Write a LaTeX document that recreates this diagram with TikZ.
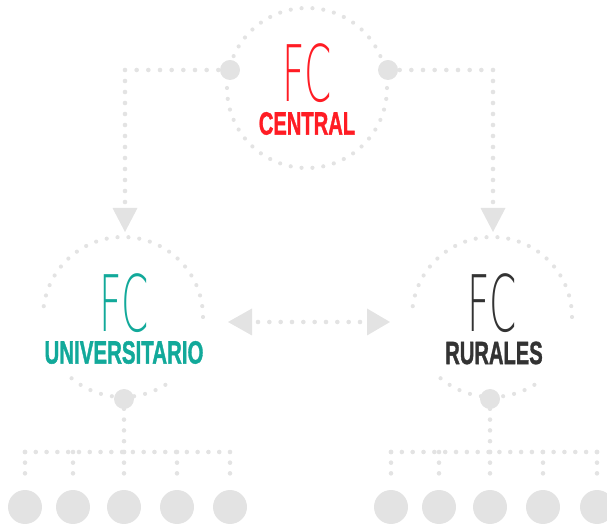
\documentclass[tikz,border=0pt]{standalone}
\usepackage{fontspec}
\usepackage{graphicx}
\setmainfont{Liberation Sans}
\newfontfamily\fcfont{DejaVu Sans ExtraLight}
\newfontfamily\namefont{Liberation Sans}[BoldFeatures={FakeBold=1.6}]
\definecolor{dotgray}{HTML}{E3E3E3}
\definecolor{fcred}{HTML}{FF1C24}
\definecolor{fcteal}{HTML}{12A99A}
\definecolor{fcdark}{HTML}{333333}
\begin{document}
\begin{tikzpicture}[x=1pt,y=1pt,
  dotline/.style={draw=dotgray, line width=4.6pt, line cap=round, dash pattern=on 0pt off #1},
  dotline/.default=11pt,
  ringdots/.style={draw=dotgray, line width=4.2pt, line cap=round, dash pattern=on 0pt off #1},
  ringdots/.default=10.93pt,
  joint/.style={circle, fill=dotgray, minimum size=20pt, inner sep=0pt},
  leaf/.style={circle, fill=dotgray, minimum size=34pt, inner sep=0pt},
  fclabel/.style={inner sep=0pt, font=\fcfont\fontsize{78}{78}\selectfont},
  namelabel/.style={inner sep=0pt, font=\namefont\bfseries\fontsize{32}{32}\selectfont},
  tipfill/.style={fill=dotgray}]
\useasboundingbox (0,0) rectangle (607,524);

% centres of the rings
\coordinate (cen) at (307,436);
\coordinate (uni) at (123,207);
\coordinate (rur) at (492,207);

% rings
\draw[ringdots=10.927pt] (cen) circle[radius=80];
\draw[ringdots=10.93pt] ([shift={(0:80)}]uni) arc[start angle=0, end angle=180, radius=80];
\draw[ringdots=11.17pt] ([shift={(230:80)}]uni) arc[start angle=230, end angle=310, radius=80];
\draw[ringdots=10.93pt] ([shift={(0:80)}]rur) arc[start angle=0, end angle=180, radius=80];
\draw[ringdots=11.17pt] ([shift={(230:80)}]rur) arc[start angle=230, end angle=310, radius=80];

% labels
\node[fclabel, text=fcred] (cenFC) at (307,451) {\scalebox{0.5}[1]{FC}};
\node[namelabel, text=fcred] (cenName) at (307,400.5) {\scalebox{0.63}[1]{CENTRAL}};
\node[fclabel, text=fcteal] (uniFC) at (124,221) {\scalebox{0.5}[1]{FC}};
\node[namelabel, text=fcteal] (uniName) at (124,171.5) {\scalebox{0.64}[1]{UNIVERSITARIO}};
\node[fclabel, text=fcdark] (rurFC) at (492,221) {\scalebox{0.5}[1]{FC}};
\node[namelabel, text=fcdark] (rurName) at (494,171) {\scalebox{0.63}[1]{RURALES}};

% joints on the central ring
\coordinate (cornL) at (125,454);
\coordinate (cornR) at (493,454);
\coordinate (downL) at (125,322);
\coordinate (downR) at (493,322);
\coordinate (tipL) at (125,292);
\coordinate (tipR) at (493,292);

\draw[dotline=11pt] (downL) -- (cornL);
\draw[dotline=11.667pt] (cornL) -- (230,454);
\draw[dotline=11pt] (downR) -- (cornR);
\draw[dotline=11.667pt] (cornR) -- (388,454);

\node[joint] (cenL) at (230,454) {};
\node[joint] (cenR) at (388,454) {};

\fill[tipfill] (tipL) -- ++(-12.5,24) -- ++(25,0) -- cycle;
\fill[tipfill] (tipR) -- ++(-12.5,24) -- ++(25,0) -- cycle;

% double arrow between the lower rings
\coordinate (hL) at (258,202);
\coordinate (hR) at (360,202);
\coordinate (htipL) at (228,202);
\coordinate (htipR) at (390,202);
\draw[dotline=11.333pt] (hL) -- (hR);
\fill[tipfill] (htipL) -- ++(24,13.5) -- ++(0,-27) -- cycle;
\fill[tipfill] (htipR) -- ++(-23,13.5) -- ++(0,-27) -- cycle;

% lower trees
\coordinate (barL1) at (25,72);
\coordinate (barL2) at (73,72);
\coordinate (barL3) at (124,72);
\coordinate (barL4) at (177,72);
\coordinate (barL5) at (230,72);
\coordinate (barR1) at (391,72);
\coordinate (barR2) at (439,72);
\coordinate (barR3) at (490,72);
\coordinate (barR4) at (543,72);
\coordinate (barR5) at (597,72);

\draw[dotline=10.79pt] (barL1) -- (barL5);
\draw[dotline=10.84pt] (barR1) -- (barR5);
\draw[dotline=10.8pt] (barL3) -- (124,125);
\draw[dotline=10.8pt] (barR3) -- (490,125);

\node[joint] (uniB) at (124,125) {};
\node[joint] (rurB) at (490,125) {};

\foreach \i/\x in {1/25,2/73,3/124,4/177,5/230}{
  \node[leaf] (leafL\i) at (\x,17) {};
  \draw[dotline=10.67pt] (barL\i) -- (\x,40);
}
\foreach \i/\x in {1/391,2/439,3/490,4/543,5/597}{
  \node[leaf] (leafR\i) at (\x,17) {};
  \draw[dotline=10.67pt] (barR\i) -- (\x,40);
}
\end{tikzpicture}
\end{document}
